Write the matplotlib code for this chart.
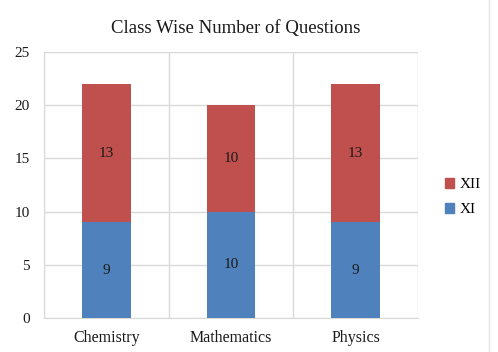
import matplotlib
matplotlib.use("Agg")
from matplotlib import pyplot as plt
from matplotlib.patches import Patch

subjects = ["Chemistry", "Mathematics", "Physics"]
xi = [9, 10, 9]
xii = [13, 10, 13]
yticks = [0, 5, 10, 15, 20, 25]

red = "#C0504D"
blue = "#4F81BD"
grid_c = "#D9D9D9"

plt.rcParams["font.family"] = ["Liberation Serif", "DejaVu Serif"]

fig = plt.figure(figsize=(4.98, 3.52), dpi=100)
ax = fig.add_axes([44/498, 34/352, 374/498, 266/352])

x = range(len(subjects))
b1 = ax.bar(x, xi, width=0.39, color=blue, zorder=3)
b2 = ax.bar(x, xii, width=0.39, bottom=xi, color=red, zorder=3)
ax.bar_label(b1, labels=[str(v) for v in xi], label_type="center", fontsize=11, color="#1a1a1a")
ax.bar_label(b2, labels=[str(v) for v in xii], label_type="center", fontsize=11, color="#1a1a1a")

ax.set_xlim(-0.5, len(subjects) - 0.5)
ax.set_ylim(0, 25)
ax.set_yticks(yticks)
ax.set_xticks(list(x))
ax.set_xticklabels(subjects)
ax.set_xticks([i - 0.5 for i in range(len(subjects) + 1)], minor=True)
ax.grid(True, axis="y", color=grid_c, lw=1, zorder=0)
ax.grid(True, axis="x", which="minor", color=grid_c, lw=1, zorder=0)
ax.tick_params(axis="both", which="both", length=0, colors="#1a1a1a")
ax.tick_params(axis="y", pad=10, labelsize=11)
ax.tick_params(axis="x", pad=9, labelsize=11.5)
for s in ax.spines.values():
    s.set_color(grid_c)
ax.spines["right"].set_visible(False)
ax.spines["top"].set_visible(False)

fig.text(0.474, 0.92, "Class Wise Number of Questions", ha="center", va="center", fontsize=13.5, color="#1a1a1a")

handles = [Patch(color=red, label="XII"), Patch(color=blue, label="XI")]
fig.legend(handles=handles, loc="center left", bbox_to_anchor=(0.865, 0.44), frameon=False,
           fontsize=11, handlelength=0.6, handleheight=0.6, handletextpad=0.4, labelspacing=0.75)

fig.add_artist(plt.Line2D([489/498, 489/498], [0, 1], color="#E4E4E4", lw=1))

fig.savefig("out.png", dpi=100)
